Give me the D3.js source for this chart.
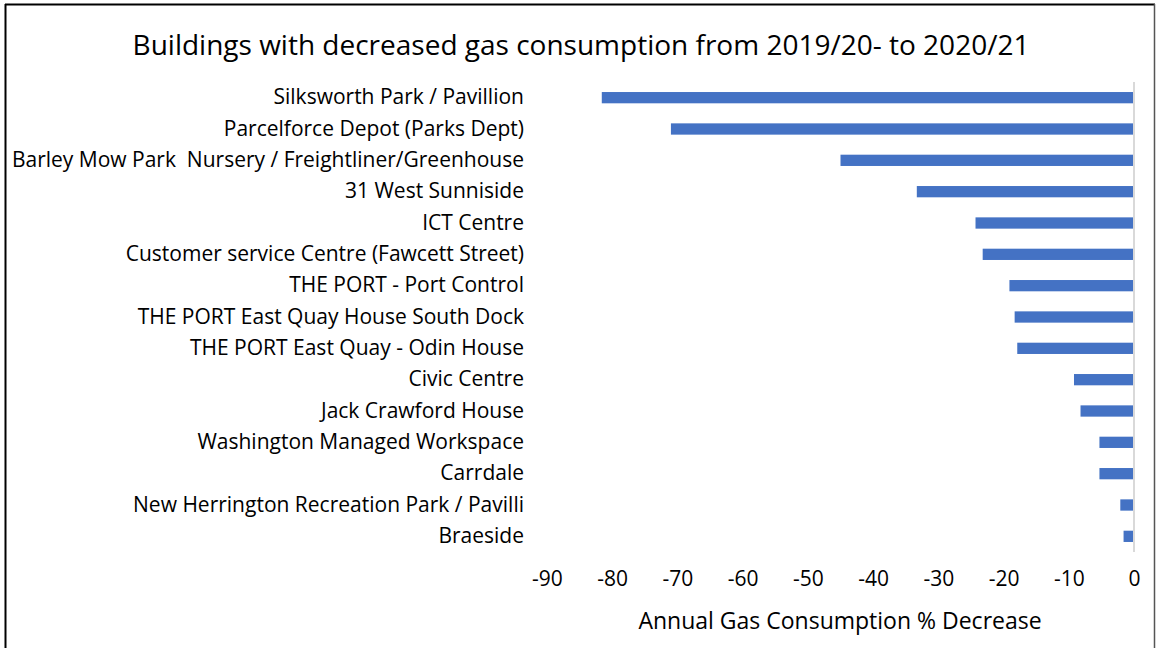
<!DOCTYPE html>
<html>
<head>
<meta charset="utf-8">
<script src="https://cdn.jsdelivr.net/npm/d3@7"></script>
<style>
  html, body { margin: 0; padding: 0; background: #fff; }
  svg { display: block; }
  text { font-family: "Open Sans", Lato, sans-serif; fill: #000; white-space: pre; }
</style>
</head>
<body>
<svg id="chart" width="1156" height="648"></svg>
<script>
// Buildings and their change in annual gas consumption (%), top to bottom
const buildings = [
  "Silksworth Park / Pavillion",
  "Parcelforce Depot (Parks Dept)",
  "Barley Mow Park  Nursery / Freightliner/Greenhouse",
  "31 West Sunniside",
  "ICT Centre",
  "Customer service Centre (Fawcett Street)",
  "THE PORT - Port Control",
  "THE PORT East Quay House South Dock",
  "THE PORT East Quay - Odin House",
  "Civic Centre",
  "Jack Crawford House",
  "Washington Managed Workspace",
  "Carrdale",
  "New Herrington Recreation Park / Pavilli",
  "Braeside"
];
const pctChange = [-81.6, -71.0, -45.0, -33.3, -24.3, -23.2, -19.1, -18.3, -17.9, -9.2, -8.2, -5.3, -5.3, -2.1, -1.6];
const xTicks = [-90, -80, -70, -60, -50, -40, -30, -20, -10, 0];

const titleText = "Buildings with decreased gas consumption from 2019/20- to 2020/21";
const axisTitleText = "Annual Gas Consumption % Decrease";

const svg = d3.select("#chart");
const W = 1156, H = 648;

svg.append("rect").attr("width", W).attr("height", H).attr("fill", "#fff");

const plot = { left: 547, right: 1134, top: 82, bottom: 552 };

const x = d3.scaleLinear().domain([-90, 0]).range([plot.left, plot.right]);
const y = d3.scaleBand().domain(buildings).range([plot.top, plot.bottom]).paddingInner(0.64).paddingOuter(0.32);

// Bars
svg.append("g").selectAll("rect")
  .data(buildings.map((b, i) => ({ b, v: pctChange[i] })))
  .join("rect")
  .attr("x", d => x(d.v))
  .attr("width", d => x(0) - x(d.v))
  .attr("y", d => y(d.b))
  .attr("height", y.bandwidth())
  .attr("fill", "#4472C4");

// Zero line
svg.append("line")
  .attr("x1", x(0)).attr("x2", x(0))
  .attr("y1", plot.top).attr("y2", plot.bottom)
  .attr("stroke", "#d9d9d9").attr("stroke-width", 2);

// Category labels
const yAxis = d3.axisLeft(y).tickSize(0).tickPadding(0);
const gy = svg.append("g").attr("transform", "translate(524,0)").call(yAxis);
gy.select(".domain").remove();
gy.selectAll("text")
  .attr("font-size", 21).attr("fill", "#000")
  .attr("font-family", "'Open Sans'")
  .attr("xml:space", "preserve");

// Value axis labels (plain hyphen minus)
const xAxis = d3.axisBottom(x).tickValues(xTicks).tickSize(0).tickPadding(0).tickFormat(d => String(d));
const gx = svg.append("g").attr("transform", "translate(0,571)").call(xAxis);
gx.select(".domain").remove();
gx.selectAll("text").attr("font-size", 21).attr("fill", "#000").attr("font-family", "'Open Sans'");

// Title
svg.append("text")
  .attr("x", 581).attr("y", 55)
  .attr("text-anchor", "middle")
  .attr("font-size", 28)
  .text(titleText);

// Axis title
svg.append("text")
  .attr("x", 840).attr("y", 629)
  .attr("text-anchor", "middle")
  .attr("font-size", 23)
  .text(axisTitleText);

// Frame
svg.append("line").attr("x1", 5).attr("x2", 1155).attr("y1", 4.5).attr("y2", 4.5).attr("stroke", "#000").attr("stroke-width", 2);
svg.append("line").attr("x1", 5.5).attr("x2", 5.5).attr("y1", 4).attr("y2", 648).attr("stroke", "#000").attr("stroke-width", 2);
svg.append("line").attr("x1", 1154.5).attr("x2", 1154.5).attr("y1", 4).attr("y2", 648).attr("stroke", "#555").attr("stroke-width", 1.5);
</script>
</body>
</html>
